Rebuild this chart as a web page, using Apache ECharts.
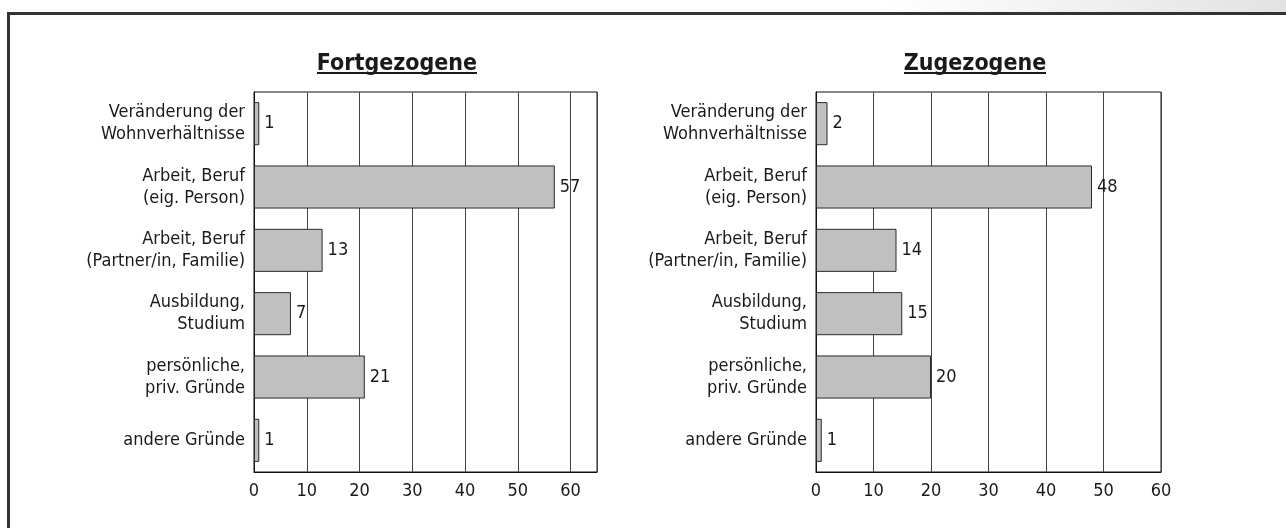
<!DOCTYPE html>
<html>
<head>
<meta charset="utf-8">
<script src="https://cdn.jsdelivr.net/npm/echarts@6/dist/echarts.min.js"></script>
<style>
  html, body { margin: 0; padding: 0; background: #ffffff; }
  #chart { width: 1286px; height: 528px; }
</style>
</head>
<body>
<div id="chart"></div>
<script>
// categories (top to bottom)
const categories = [
  'Veränderung der\nWohnverhältnisse',
  'Arbeit, Beruf\n(eig. Person)',
  'Arbeit, Beruf\n(Partner/in, Familie)',
  'Ausbildung,\nStudium',
  'persönliche,\npriv. Gründe',
  'andere Gründe'
]
// values
const fortgezogene = [1, 57, 13, 7, 21, 1]
const zugezogene = [2, 48, 14, 15, 20, 1]
// axis settings
const leftMax = 65
const rightMax = 60
const tickStep = 10

const font = "'DejaVu Sans Condensed', 'DejaVu Sans', sans-serif"
const ink = '#1a1a1a'

const chart = echarts.init(document.getElementById('chart'), null, { renderer: 'canvas' })

const xAxisBase = (idx, max) => ({
  type: 'value',
  gridIndex: idx,
  min: 0,
  max: max,
  interval: tickStep,
  axisLine: { show: true, lineStyle: { color: '#111', width: 1 } },
  axisTick: { show: false },
  axisLabel: { color: ink, fontFamily: font, fontSize: 18, margin: 10, showMaxLabel: max % tickStep === 0 },
  splitLine: { show: true, lineStyle: { color: '#444', width: 1 } }
})

const yAxisBase = (idx) => ({
  type: 'category',
  gridIndex: idx,
  data: categories,
  inverse: true,
  axisLine: { show: true, lineStyle: { color: '#111', width: 1 } },
  axisTick: { show: false },
  axisLabel: { color: ink, fontFamily: font, fontSize: 18, lineHeight: 22, margin: 9, align: 'right' }
})

const seriesBase = (idx, data) => ({
  type: 'bar',
  xAxisIndex: idx,
  yAxisIndex: idx,
  data: data,
  barCategoryGap: '32%',
  itemStyle: { color: '#c0c0c0', borderColor: '#2a2a2a', borderWidth: 1 },
  label: { show: true, position: 'right', distance: 5, color: ink, fontFamily: font, fontSize: 18 },
  silent: true
})

const option = {
  animation: false,
  backgroundColor: '#ffffff',
  title: [
    { text: 'Fortgezogene', left: 392, top: 48, textAlign: 'center',
      textStyle: { fontFamily: font, fontSize: 23, fontWeight: 'bold', color: ink } },
    { text: 'Zugezogene', left: 970, top: 48, textAlign: 'center',
      textStyle: { fontFamily: font, fontSize: 23, fontWeight: 'bold', color: ink } }
  ],
  grid: [
    { left: 254, top: 92, width: 343, height: 380, show: true, borderColor: '#111', borderWidth: 1, backgroundColor: 'transparent' },
    { left: 816, top: 92, width: 345, height: 380, show: true, borderColor: '#111', borderWidth: 1, backgroundColor: 'transparent' }
  ],
  xAxis: [xAxisBase(0, leftMax), xAxisBase(1, rightMax)],
  yAxis: [yAxisBase(0), yAxisBase(1)],
  series: [seriesBase(0, fortgezogene), seriesBase(1, zugezogene)],
  graphic: [
    // light grey fade above frame, top right
    { type: 'rect', z: -1, shape: { x: 880, y: 0, width: 406, height: 12 },
      style: { fill: new echarts.graphic.LinearGradient(0, 0, 1, 0, [
        { offset: 0, color: '#ffffff' }, { offset: 1, color: '#e2e2e2' }]) } },
    // outer frame (top + left)
    { type: 'polyline', shape: { points: [[8.5, 528], [8.5, 13.5], [1286, 13.5]] },
      style: { stroke: '#333', lineWidth: 3, fill: null } },
    // title underlines
    { type: 'line', shape: { x1: 317, y1: 73, x2: 477, y2: 73 }, style: { stroke: ink, lineWidth: 2 } },
    { type: 'line', shape: { x1: 904, y1: 73, x2: 1046, y2: 73 }, style: { stroke: ink, lineWidth: 2 } }
  ]
}

chart.setOption(option)
</script>
</body>
</html>
